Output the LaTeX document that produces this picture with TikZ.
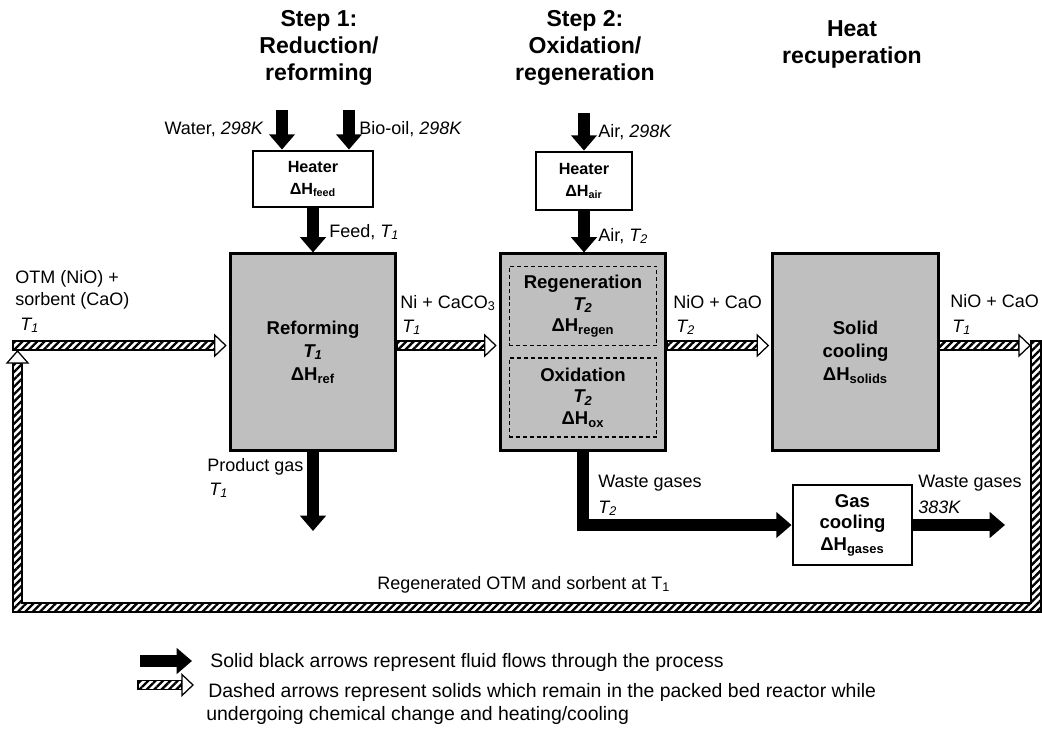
\documentclass[tikz,border=0pt]{standalone}
\usepackage{fontspec}
\setmainfont{Liberation Sans}
\usetikzlibrary{arrows.meta,calc,patterns.meta}

\tikzset{
  fluid/.style={line width=6.5pt, line join=miter, -{Triangle[length=8.5pt,width=14pt]}},
  hatch/.style={pattern={Lines[angle=45,distance=2.9pt,line width=1.3pt]}},
  solids/.style={hatch, draw, line width=0.7pt},
  solidshead/.style={draw, fill=white, line width=0.7pt},
  reactor/.style={draw, line width=1.6pt, fill=black!25, minimum width=92pt, minimum height=109pt,
    inner sep=0pt, align=center, font=\fontsize{10.3}{12.8}\selectfont\bfseries},
  unit/.style={draw, line width=1.6pt, fill=white, inner sep=0pt, align=center,
    font=\fontsize{10.3}{12}\selectfont\bfseries},
  stage/.style={draw, line width=0.7pt, dash pattern=on 2.2pt off 1.6pt, minimum width=82pt,
    minimum height=44pt, inner sep=0pt, align=center, font=\fontsize{10.3}{12}\selectfont\bfseries},
  lbl/.style={inner sep=0pt, anchor=base west, font=\fontsize{10}{12}\selectfont},
  steptitle/.style={inner sep=0pt, anchor=north, align=center, font=\fontsize{12.8}{15}\selectfont\bfseries},
  legend/.style={inner sep=0pt, anchor=base west, font=\fontsize{10.8}{13}\selectfont},
}

% hatched solids arrow, tip 3px short of #2
\newcommand{\solidsflow}[2]{%
  \draw[solids] ($(#1)+(0,-4.5)$) rectangle ($(#2)+(-14,4.5)$);
  \draw[solidshead] ($(#2)+(-14,-10.5)$) -- ($(#2)+(-3,0)$) -- ($(#2)+(-14,10.5)$) -- cycle;
}

\begin{document}
\begin{tikzpicture}[x=0.5556pt,y=-0.5556pt]
\useasboundingbox (0,0) rectangle (1042,733);

% titles
\node[steptitle] (step1) at (319,10) {Step 1:\\Reduction/\\reforming};
\node[steptitle] (step2) at (585,10) {Step 2:\\Oxidation/\\regeneration};
\node[steptitle] (heatrec) at (852,20) {Heat\\recuperation};

% units
\node[reactor] (ref) at (313,352) {Reforming\\\textit{T\textsubscript{1}}\\ΔH\textsubscript{ref}};
\node[reactor] (ox) at (583,352) {};
\node[stage] (regen) at (583,306) {Regeneration\\\textit{T\textsubscript{2}}\\ΔH\textsubscript{regen}};
\node[stage] (oxi) at (583,397.5) {Oxidation\\\textit{T\textsubscript{2}}\\ΔH\textsubscript{ox}};
\node[reactor] (sol) at (855.5,352) {Solid\\cooling\\ΔH\textsubscript{solids}};
\node[unit, minimum width=66.7pt, minimum height=31.1pt, font=\fontsize{9}{12.5}\selectfont\bfseries]
  (heat1) at (313,179) {Heater\\ΔH\textsubscript{feed}};
\node[unit, minimum width=53.3pt, minimum height=32.2pt, font=\fontsize{9}{12.5}\selectfont\bfseries]
  (heat2) at (584,181) {Heater\\ΔH\textsubscript{air}};
\node[unit, minimum width=66.1pt, minimum height=44.4pt] (gas) at (852.5,525) {Gas\\cooling\\ΔH\textsubscript{gases}};

% fluid flows
\coordinate (water) at (282,110);
\coordinate (biooil) at (349,110);
\coordinate (air) at (584,113);
\coordinate (prodout) at (313,531);
\coordinate (wasteout) at (1005,525);
\draw[fluid] (water) -- (water |- heat1.north);
\draw[fluid] (biooil) -- (biooil |- heat1.north);
\draw[fluid] (heat1.south) -- (ref.north);
\draw[fluid] (air) -- (air |- heat2.north);
\draw[fluid] (heat2.south) -- (heat2.south |- ox.north);
\draw[fluid] (ref.south) -- (prodout);
\draw[fluid] (ox.south) |- (gas.west);
\draw[fluid] (gas.east) -- (wasteout);

% solids flows
\coordinate (otm) at (13,345.5);
\coordinate (loopin) at (1033,345.5);
\solidsflow{otm}{ref.west|-otm}
\solidsflow{ref.east|-otm}{ox.west|-otm}
\solidsflow{ox.east|-otm}{sol.west|-otm}
\solidsflow{sol.east|-otm}{loopin}
\draw[solids] (1031,341) -- (1041,341) -- (1041,612) -- (13,612) -- (13,363) -- (22,363)
  -- (22,603) -- (1031,603) -- cycle;
\draw[solidshead] (7,363) -- (17.5,351) -- (28,363) -- cycle;

% labels
\node[lbl, anchor=base east] (lwater) at (264,134) {Water, \textit{298K}};
\node[lbl] (lbio) at (359,134) {Bio-oil, \textit{298K}};
\node[lbl] (lfeed) at (329,237) {Feed, \textit{T\textsubscript{1}}};
\node[lbl] (lair) at (598,137) {Air, \textit{298K}};
\node[lbl] (lair2) at (598,241) {Air, \textit{T\textsubscript{2}}};
\node[lbl] (lotm) at (15,283) {OTM (NiO) +};
\node[lbl] (lotm2) at (15,305) {sorbent (CaO)};
\node[lbl] (lotm3) at (20,330) {\textit{T\textsubscript{1}}};
\node[lbl] (lni) at (400,308) {Ni + CaCO\textsubscript{3}};
\node[lbl] (lni2) at (402,332) {\textit{T\textsubscript{1}}};
\node[lbl] (lnio) at (673,308) {NiO + CaO};
\node[lbl] (lnio2) at (676,332) {\textit{T\textsubscript{2}}};
\node[lbl] (lcool) at (950,307) {NiO + CaO};
\node[lbl] (lcool2) at (952,332) {\textit{T\textsubscript{1}}};
\node[lbl] (lprod) at (207,471) {Product gas};
\node[lbl] (lprod2) at (209,495) {\textit{T\textsubscript{1}}};
\node[lbl] (lwaste) at (598,487) {Waste gases};
\node[lbl] (lwaste2) at (598,513) {\textit{T\textsubscript{2}}};
\node[lbl] (lexit) at (918,487) {Waste gases};
\node[lbl] (lexit2) at (918,513) {\textit{383K}};
\node[lbl] (lregen) at (377,589) {Regenerated OTM and sorbent at T\textsubscript{1}};

% legend
\coordinate (lega) at (140,661);
\coordinate (legb) at (138,685);
\draw[fluid] (lega) -- ++(52,0);
\coordinate (legbend) at (196,685);
\solidsflow{legb}{legbend}
\node[legend] (key1) at (210,667) {Solid black arrows represent fluid flows through the process};
\node[legend] (key2) at (208,697) {Dashed arrows represent solids which remain in the packed bed reactor while};
\node[legend] (key3) at (206,720) {undergoing chemical change and heating/cooling};
\end{tikzpicture}
\end{document}
